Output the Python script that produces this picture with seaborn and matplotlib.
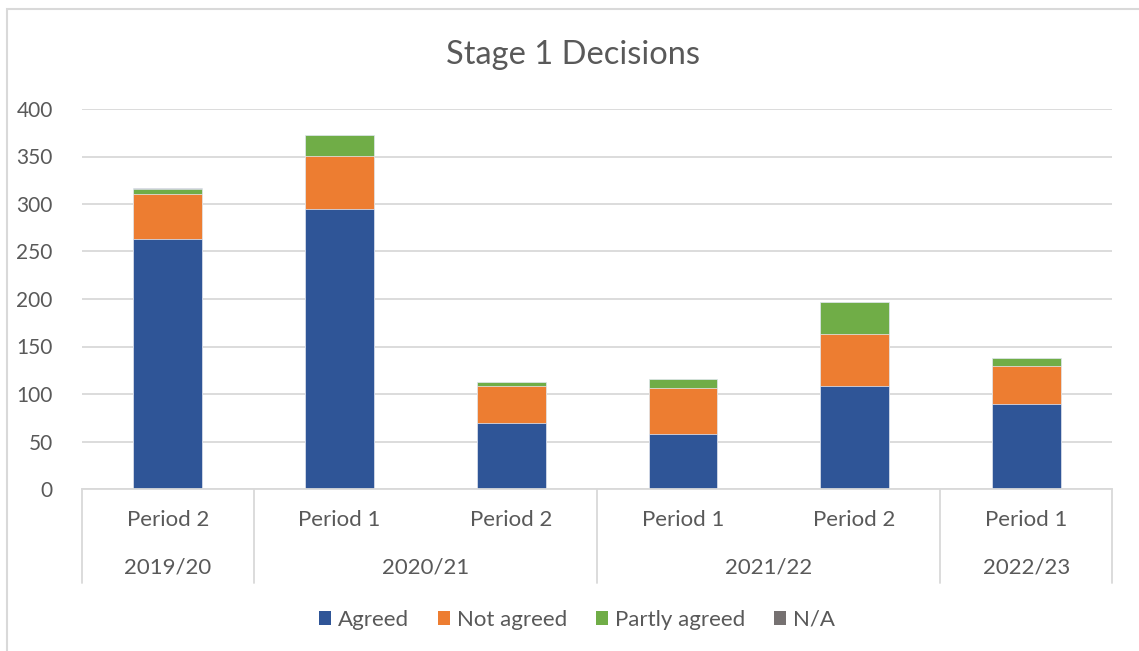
"""
Stage 1 decisions by year / period, stacked by outcome.
"""

import numpy as np
import pandas as pd

import seaborn as sns
import matplotlib
matplotlib.use('Agg')
import matplotlib.pyplot as plt
from matplotlib import transforms as mtrans
from matplotlib.patches import Rectangle, Patch


########  data  ########

YEARS = ['2019/20', '2020/21', '2020/21', '2021/22', '2021/22', '2022/23']
PERIODS = ['Period 2', 'Period 1', 'Period 2', 'Period 1', 'Period 2', 'Period 1']

AGREED = [263, 295, 69, 58, 108, 90]
NOT_AGREED = [48, 56, 39, 48, 55, 40]
PARTLY_AGREED = [5, 22, 5, 10, 34, 8]
NA = [1, 0, 0, 0, 0, 0]

OUTCOMES = ['Agreed', 'Not agreed', 'Partly agreed', 'N/A']
COLORS = ['#2F5597', '#ED7D31', '#70AD47', '#767171']

TEXT_COLOR = '#595959'
GRID_COLOR = '#D9D9D9'

#########################


sns.set_style('white')
plt.rcParams['font.family'] = ['Lato', 'DejaVu Sans']

df = pd.DataFrame({
    'key': [f'{y} {p}' for y, p in zip(YEARS, PERIODS)],
    'Agreed': AGREED,
    'Not agreed': NOT_AGREED,
    'Partly agreed': PARTLY_AGREED,
    'N/A': NA,
})
order = list(df['key'])

fig = plt.figure(figsize=(11.39, 6.51), dpi=100)
ax = fig.add_axes([82/1139, 1 - 489/651, 1030/1139, 380/651])

# stacked bars: draw cumulative totals from the top layer down
cum = df[OUTCOMES].cumsum(axis=1)
for col, color in zip(OUTCOMES[::-1], COLORS[::-1]):
    sns.barplot(x=df['key'], y=cum[col], order=order, color=color,
                width=0.4, saturation=1, linewidth=0.5, edgecolor='#E8EEF8',
                ax=ax)

ax.set_ylim(0, 400)
ax.set_xlim(-0.5, len(order) - 0.5)
ax.set_yticks(np.arange(0, 401, 50))
ax.yaxis.grid(True, color=GRID_COLOR, linewidth=1.3)
ax.set_axisbelow(True)
for s in ['top', 'right', 'left']:
    ax.spines[s].set_visible(False)
ax.spines['bottom'].set_color(GRID_COLOR)
ax.spines['bottom'].set_linewidth(1.3)
ax.tick_params(axis='y', length=0, pad=21, labelsize=15, labelcolor=TEXT_COLOR)
ax.tick_params(axis='x', length=0)
ax.set_xticks(range(len(order)))
ax.set_xticklabels([])
ax.set_xlabel('')
ax.set_ylabel('')

# two-level category axis
trans = mtrans.blended_transform_factory(ax.transData, ax.transAxes)
line_bottom = -94/380
for i, p in enumerate(PERIODS):
    ax.text(i, -31/380, p, transform=trans, ha='center', va='center',
            fontsize=16, color=TEXT_COLOR)

groups = []
for i, y in enumerate(YEARS):
    if groups and groups[-1][0] == y:
        groups[-1][2] = i
    else:
        groups.append([y, i, i])

bounds = sorted({g[1] - 0.5 for g in groups} | {g[2] + 0.5 for g in groups})
for b in bounds:
    ax.plot([b, b], [0, line_bottom], transform=trans, color=GRID_COLOR,
            linewidth=1.3, clip_on=False)
for y, i0, i1 in groups:
    ax.text((i0 + i1)/2, -79/380, y, transform=trans, ha='center',
            va='center', fontsize=16, color=TEXT_COLOR)

# title
fig.text(573/1139, 1 - 55/651, 'Stage 1 Decisions', ha='center', va='center',
         fontsize=23.5, color=TEXT_COLOR)

# legend
handles = [Patch(facecolor=c, edgecolor='none', label=l)
           for l, c in zip(OUTCOMES, COLORS)]
fig.legend(handles=handles, loc='center', bbox_to_anchor=(577/1139, 1 - 620/651),
           ncol=4, frameon=False, fontsize=16, labelcolor=TEXT_COLOR,
           handlelength=0.55, handleheight=0.55, handletextpad=0.3,
           columnspacing=1.3)

# chart area border (cut off at right and bottom)
fig.add_artist(Rectangle((7/1139, -0.1), 2, 1 - 9/651 + 0.1,
                         transform=fig.transFigure, fill=False,
                         edgecolor=GRID_COLOR, linewidth=1.5))

fig.savefig('out.png', dpi=100)
plt.close(fig)
